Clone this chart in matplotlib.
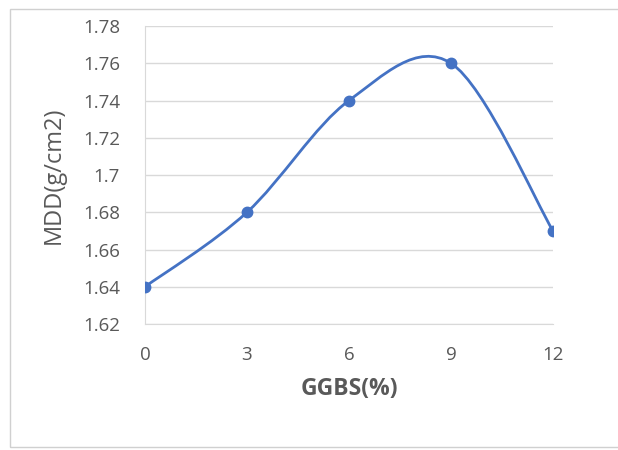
import matplotlib.pyplot as plt
import numpy as np
from matplotlib.path import Path
from matplotlib.patches import PathPatch, Rectangle

# data
ggbs = [0, 3, 6, 9, 12]
mdd = [1.64, 1.68, 1.74, 1.76, 1.67]
y_ticks = [1.62, 1.64, 1.66, 1.68, 1.70, 1.72, 1.74, 1.76, 1.78]
y_tick_labels = ["1.62", "1.64", "1.66", "1.68", "1.7", "1.72", "1.74", "1.76", "1.78"]
x_ticks = [0, 3, 6, 9, 12]

blue = "#4472C4"
grey_txt = "#595959"
grid_col = "#d9d9d9"

plt.rcParams['font.family'] = ['Open Sans', 'DejaVu Sans']

fig = plt.figure(figsize=(6.18, 4.5), dpi=100)
ax = fig.add_axes([145/618, 1-324/450, 408/618, 298/450])

# Excel style smoothed line (Catmull-Rom -> cubic bezier)
pts = np.column_stack([ggbs, mdd]).astype(float)
n = len(pts)
verts = [tuple(pts[0])]
codes = [Path.MOVETO]
for i in range(n-1):
    p0 = pts[max(i-1, 0)]
    p1 = pts[i]
    p2 = pts[i+1]
    p3 = pts[min(i+2, n-1)]
    c1 = p1 + (p2 - p0)/6
    c2 = p2 - (p3 - p1)/6
    verts += [tuple(c1), tuple(c2), tuple(p2)]
    codes += [Path.CURVE4]*3
ax.add_patch(PathPatch(Path(verts, codes), fc="none", ec=blue, lw=2.0, zorder=3))
ax.plot(ggbs, mdd, "o", color=blue, ms=7.5, zorder=4)

ax.set_xlim(0, 12)
ax.set_ylim(1.62, 1.78)
ax.set_yticks(y_ticks)
ax.set_yticklabels(y_tick_labels)
ax.set_xticks(x_ticks)
ax.tick_params(length=0, labelsize=13.5, colors=grey_txt)
ax.tick_params(axis="y", pad=18)
ax.tick_params(axis="x", pad=16)
ax.grid(axis="y", color=grid_col, lw=1.0)
ax.set_axisbelow(True)
for s in ["top", "right"]:
    ax.spines[s].set_visible(False)
ax.spines["left"].set_color(grid_col)
ax.spines["bottom"].set_color(grid_col)

ax.set_xlabel("GGBS(%)", fontsize=16.5, fontweight="bold", color=grey_txt, va="center")
ax.xaxis.set_label_coords(0.5, -0.218)
ax.set_ylabel("MDD(g/cm2)", fontsize=17, color=grey_txt, va="center")
ax.yaxis.set_label_coords(-0.223, 0.5)

fig.patches.append(Rectangle((10/618, 3/450), 1.0, 1-12/450, transform=fig.transFigure,
                             fill=False, ec="#d0d0d0", lw=1.0))

fig.savefig("out.png", dpi=100)
